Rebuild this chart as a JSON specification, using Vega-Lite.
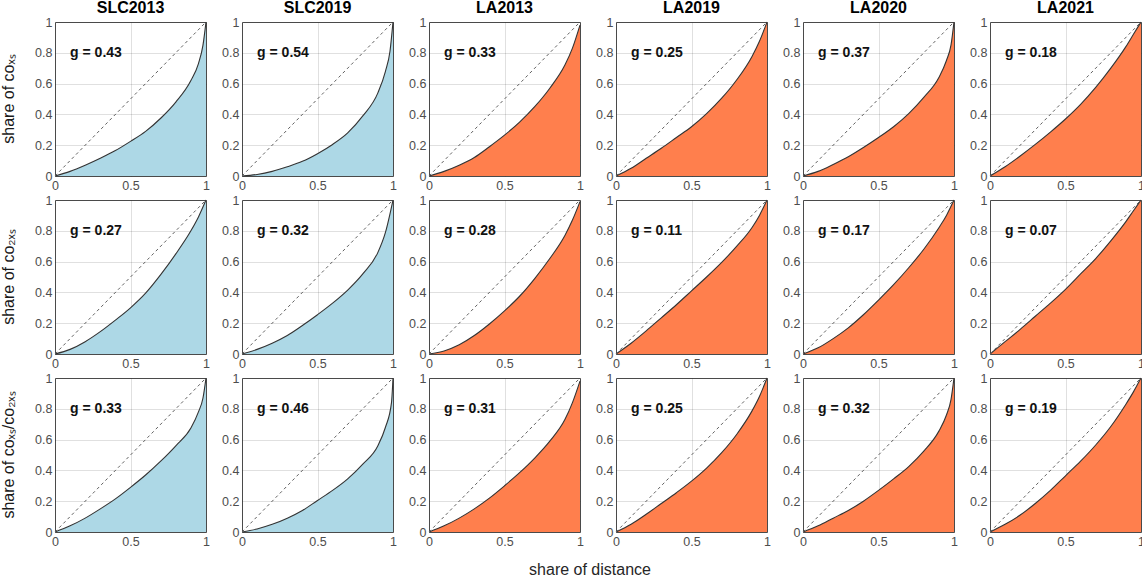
{
  "$schema": "https://vega.github.io/schema/vega-lite/v6.json",
  "background": "white",
  "padding": {"left": 0, "top": 0, "right": 0, "bottom": 2},
  "data": {"values": [
    {"r":1,"p":"SLC2013","x":0,"y":0,"g":"g = 0.43"},{"r":1,"p":"SLC2013","x":0.1,"y":0.03},{"r":1,"p":"SLC2013","x":0.2,"y":0.07},{"r":1,"p":"SLC2013","x":0.3,"y":0.115},{"r":1,"p":"SLC2013","x":0.4,"y":0.165},{"r":1,"p":"SLC2013","x":0.5,"y":0.225},{"r":1,"p":"SLC2013","x":0.6,"y":0.29},{"r":1,"p":"SLC2013","x":0.7,"y":0.375},{"r":1,"p":"SLC2013","x":0.8,"y":0.48},{"r":1,"p":"SLC2013","x":0.9,"y":0.62},{"r":1,"p":"SLC2013","x":0.95,"y":0.73},{"r":1,"p":"SLC2013","x":0.98,"y":0.85},{"r":1,"p":"SLC2013","x":1,"y":1},
    {"r":1,"p":"SLC2019","x":0,"y":0,"g":"g = 0.54"},{"r":1,"p":"SLC2019","x":0.1,"y":0.01},{"r":1,"p":"SLC2019","x":0.2,"y":0.03},{"r":1,"p":"SLC2019","x":0.3,"y":0.06},{"r":1,"p":"SLC2019","x":0.4,"y":0.095},{"r":1,"p":"SLC2019","x":0.5,"y":0.145},{"r":1,"p":"SLC2019","x":0.6,"y":0.205},{"r":1,"p":"SLC2019","x":0.7,"y":0.28},{"r":1,"p":"SLC2019","x":0.8,"y":0.39},{"r":1,"p":"SLC2019","x":0.9,"y":0.54},{"r":1,"p":"SLC2019","x":0.95,"y":0.68},{"r":1,"p":"SLC2019","x":0.98,"y":0.81},{"r":1,"p":"SLC2019","x":1,"y":1},
    {"r":1,"p":"LA2013","x":0,"y":0,"g":"g = 0.33"},{"r":1,"p":"LA2013","x":0.1,"y":0.03},{"r":1,"p":"LA2013","x":0.2,"y":0.07},{"r":1,"p":"LA2013","x":0.3,"y":0.12},{"r":1,"p":"LA2013","x":0.4,"y":0.19},{"r":1,"p":"LA2013","x":0.5,"y":0.265},{"r":1,"p":"LA2013","x":0.6,"y":0.35},{"r":1,"p":"LA2013","x":0.7,"y":0.45},{"r":1,"p":"LA2013","x":0.8,"y":0.57},{"r":1,"p":"LA2013","x":0.9,"y":0.72},{"r":1,"p":"LA2013","x":0.95,"y":0.83},{"r":1,"p":"LA2013","x":1,"y":0.98},
    {"r":1,"p":"LA2019","x":0,"y":0,"g":"g = 0.25"},{"r":1,"p":"LA2019","x":0.1,"y":0.05},{"r":1,"p":"LA2019","x":0.2,"y":0.115},{"r":1,"p":"LA2019","x":0.3,"y":0.18},{"r":1,"p":"LA2019","x":0.4,"y":0.25},{"r":1,"p":"LA2019","x":0.5,"y":0.32},{"r":1,"p":"LA2019","x":0.6,"y":0.405},{"r":1,"p":"LA2019","x":0.7,"y":0.505},{"r":1,"p":"LA2019","x":0.8,"y":0.625},{"r":1,"p":"LA2019","x":0.9,"y":0.775},{"r":1,"p":"LA2019","x":0.95,"y":0.875},{"r":1,"p":"LA2019","x":1,"y":1},
    {"r":1,"p":"LA2020","x":0,"y":0,"g":"g = 0.37"},{"r":1,"p":"LA2020","x":0.1,"y":0.03},{"r":1,"p":"LA2020","x":0.2,"y":0.075},{"r":1,"p":"LA2020","x":0.3,"y":0.125},{"r":1,"p":"LA2020","x":0.4,"y":0.185},{"r":1,"p":"LA2020","x":0.5,"y":0.25},{"r":1,"p":"LA2020","x":0.6,"y":0.32},{"r":1,"p":"LA2020","x":0.7,"y":0.405},{"r":1,"p":"LA2020","x":0.8,"y":0.51},{"r":1,"p":"LA2020","x":0.9,"y":0.64},{"r":1,"p":"LA2020","x":0.95,"y":0.75},{"r":1,"p":"LA2020","x":0.98,"y":0.85},{"r":1,"p":"LA2020","x":1,"y":1},
    {"r":1,"p":"LA2021","x":0,"y":0,"g":"g = 0.18"},{"r":1,"p":"LA2021","x":0.1,"y":0.06},{"r":1,"p":"LA2021","x":0.2,"y":0.13},{"r":1,"p":"LA2021","x":0.3,"y":0.205},{"r":1,"p":"LA2021","x":0.4,"y":0.285},{"r":1,"p":"LA2021","x":0.5,"y":0.37},{"r":1,"p":"LA2021","x":0.6,"y":0.465},{"r":1,"p":"LA2021","x":0.7,"y":0.575},{"r":1,"p":"LA2021","x":0.8,"y":0.7},{"r":1,"p":"LA2021","x":0.9,"y":0.84},{"r":1,"p":"LA2021","x":0.95,"y":0.92},{"r":1,"p":"LA2021","x":1,"y":1},

    {"r":2,"p":"SLC2013","x":0,"y":0,"g":"g = 0.27"},{"r":2,"p":"SLC2013","x":0.1,"y":0.03},{"r":2,"p":"SLC2013","x":0.2,"y":0.08},{"r":2,"p":"SLC2013","x":0.3,"y":0.145},{"r":2,"p":"SLC2013","x":0.4,"y":0.22},{"r":2,"p":"SLC2013","x":0.5,"y":0.3},{"r":2,"p":"SLC2013","x":0.6,"y":0.395},{"r":2,"p":"SLC2013","x":0.7,"y":0.515},{"r":2,"p":"SLC2013","x":0.8,"y":0.65},{"r":2,"p":"SLC2013","x":0.9,"y":0.8},{"r":2,"p":"SLC2013","x":0.95,"y":0.89},{"r":2,"p":"SLC2013","x":1,"y":1},
    {"r":2,"p":"SLC2019","x":0,"y":0,"g":"g = 0.32"},{"r":2,"p":"SLC2019","x":0.1,"y":0.03},{"r":2,"p":"SLC2019","x":0.2,"y":0.07},{"r":2,"p":"SLC2019","x":0.3,"y":0.12},{"r":2,"p":"SLC2019","x":0.4,"y":0.185},{"r":2,"p":"SLC2019","x":0.5,"y":0.255},{"r":2,"p":"SLC2019","x":0.6,"y":0.33},{"r":2,"p":"SLC2019","x":0.7,"y":0.415},{"r":2,"p":"SLC2019","x":0.8,"y":0.52},{"r":2,"p":"SLC2019","x":0.9,"y":0.66},{"r":2,"p":"SLC2019","x":0.95,"y":0.79},{"r":2,"p":"SLC2019","x":1,"y":1},
    {"r":2,"p":"LA2013","x":0,"y":0,"g":"g = 0.28"},{"r":2,"p":"LA2013","x":0.1,"y":0.02},{"r":2,"p":"LA2013","x":0.2,"y":0.06},{"r":2,"p":"LA2013","x":0.3,"y":0.12},{"r":2,"p":"LA2013","x":0.4,"y":0.195},{"r":2,"p":"LA2013","x":0.5,"y":0.28},{"r":2,"p":"LA2013","x":0.6,"y":0.375},{"r":2,"p":"LA2013","x":0.7,"y":0.49},{"r":2,"p":"LA2013","x":0.8,"y":0.62},{"r":2,"p":"LA2013","x":0.9,"y":0.77},{"r":2,"p":"LA2013","x":0.95,"y":0.87},{"r":2,"p":"LA2013","x":1,"y":0.99},
    {"r":2,"p":"LA2019","x":0,"y":0,"g":"g = 0.11"},{"r":2,"p":"LA2019","x":0.1,"y":0.07},{"r":2,"p":"LA2019","x":0.2,"y":0.15},{"r":2,"p":"LA2019","x":0.3,"y":0.235},{"r":2,"p":"LA2019","x":0.4,"y":0.32},{"r":2,"p":"LA2019","x":0.5,"y":0.41},{"r":2,"p":"LA2019","x":0.6,"y":0.5},{"r":2,"p":"LA2019","x":0.7,"y":0.595},{"r":2,"p":"LA2019","x":0.8,"y":0.7},{"r":2,"p":"LA2019","x":0.9,"y":0.82},{"r":2,"p":"LA2019","x":0.95,"y":0.9},{"r":2,"p":"LA2019","x":1,"y":1},
    {"r":2,"p":"LA2020","x":0,"y":0,"g":"g = 0.17"},{"r":2,"p":"LA2020","x":0.1,"y":0.04},{"r":2,"p":"LA2020","x":0.2,"y":0.1},{"r":2,"p":"LA2020","x":0.3,"y":0.17},{"r":2,"p":"LA2020","x":0.4,"y":0.255},{"r":2,"p":"LA2020","x":0.5,"y":0.35},{"r":2,"p":"LA2020","x":0.6,"y":0.45},{"r":2,"p":"LA2020","x":0.7,"y":0.56},{"r":2,"p":"LA2020","x":0.8,"y":0.68},{"r":2,"p":"LA2020","x":0.9,"y":0.82},{"r":2,"p":"LA2020","x":0.95,"y":0.9},{"r":2,"p":"LA2020","x":1,"y":1},
    {"r":2,"p":"LA2021","x":0,"y":0,"g":"g = 0.07"},{"r":2,"p":"LA2021","x":0.1,"y":0.08},{"r":2,"p":"LA2021","x":0.2,"y":0.16},{"r":2,"p":"LA2021","x":0.3,"y":0.245},{"r":2,"p":"LA2021","x":0.4,"y":0.33},{"r":2,"p":"LA2021","x":0.5,"y":0.42},{"r":2,"p":"LA2021","x":0.6,"y":0.52},{"r":2,"p":"LA2021","x":0.7,"y":0.62},{"r":2,"p":"LA2021","x":0.8,"y":0.735},{"r":2,"p":"LA2021","x":0.9,"y":0.86},{"r":2,"p":"LA2021","x":0.95,"y":0.93},{"r":2,"p":"LA2021","x":1,"y":1},

    {"r":3,"p":"SLC2013","x":0,"y":0,"g":"g = 0.33"},{"r":3,"p":"SLC2013","x":0.1,"y":0.04},{"r":3,"p":"SLC2013","x":0.2,"y":0.09},{"r":3,"p":"SLC2013","x":0.3,"y":0.15},{"r":3,"p":"SLC2013","x":0.4,"y":0.215},{"r":3,"p":"SLC2013","x":0.5,"y":0.29},{"r":3,"p":"SLC2013","x":0.6,"y":0.37},{"r":3,"p":"SLC2013","x":0.7,"y":0.46},{"r":3,"p":"SLC2013","x":0.8,"y":0.56},{"r":3,"p":"SLC2013","x":0.9,"y":0.675},{"r":3,"p":"SLC2013","x":0.95,"y":0.78},{"r":3,"p":"SLC2013","x":0.98,"y":0.87},{"r":3,"p":"SLC2013","x":1,"y":1},
    {"r":3,"p":"SLC2019","x":0,"y":0,"g":"g = 0.46"},{"r":3,"p":"SLC2019","x":0.1,"y":0.02},{"r":3,"p":"SLC2019","x":0.2,"y":0.05},{"r":3,"p":"SLC2019","x":0.3,"y":0.09},{"r":3,"p":"SLC2019","x":0.4,"y":0.14},{"r":3,"p":"SLC2019","x":0.5,"y":0.205},{"r":3,"p":"SLC2019","x":0.6,"y":0.27},{"r":3,"p":"SLC2019","x":0.7,"y":0.345},{"r":3,"p":"SLC2019","x":0.8,"y":0.44},{"r":3,"p":"SLC2019","x":0.9,"y":0.56},{"r":3,"p":"SLC2019","x":0.95,"y":0.68},{"r":3,"p":"SLC2019","x":0.99,"y":0.84},{"r":3,"p":"SLC2019","x":1,"y":1},
    {"r":3,"p":"LA2013","x":0,"y":0,"g":"g = 0.31"},{"r":3,"p":"LA2013","x":0.1,"y":0.04},{"r":3,"p":"LA2013","x":0.2,"y":0.09},{"r":3,"p":"LA2013","x":0.3,"y":0.15},{"r":3,"p":"LA2013","x":0.4,"y":0.22},{"r":3,"p":"LA2013","x":0.5,"y":0.3},{"r":3,"p":"LA2013","x":0.6,"y":0.385},{"r":3,"p":"LA2013","x":0.7,"y":0.48},{"r":3,"p":"LA2013","x":0.8,"y":0.59},{"r":3,"p":"LA2013","x":0.9,"y":0.73},{"r":3,"p":"LA2013","x":0.95,"y":0.84},{"r":3,"p":"LA2013","x":1,"y":0.98},
    {"r":3,"p":"LA2019","x":0,"y":0,"g":"g = 0.25"},{"r":3,"p":"LA2019","x":0.1,"y":0.05},{"r":3,"p":"LA2019","x":0.2,"y":0.115},{"r":3,"p":"LA2019","x":0.3,"y":0.185},{"r":3,"p":"LA2019","x":0.4,"y":0.255},{"r":3,"p":"LA2019","x":0.5,"y":0.33},{"r":3,"p":"LA2019","x":0.6,"y":0.415},{"r":3,"p":"LA2019","x":0.7,"y":0.515},{"r":3,"p":"LA2019","x":0.8,"y":0.635},{"r":3,"p":"LA2019","x":0.9,"y":0.785},{"r":3,"p":"LA2019","x":0.95,"y":0.88},{"r":3,"p":"LA2019","x":1,"y":1},
    {"r":3,"p":"LA2020","x":0,"y":0,"g":"g = 0.32"},{"r":3,"p":"LA2020","x":0.1,"y":0.04},{"r":3,"p":"LA2020","x":0.2,"y":0.09},{"r":3,"p":"LA2020","x":0.3,"y":0.14},{"r":3,"p":"LA2020","x":0.4,"y":0.2},{"r":3,"p":"LA2020","x":0.5,"y":0.27},{"r":3,"p":"LA2020","x":0.6,"y":0.345},{"r":3,"p":"LA2020","x":0.7,"y":0.425},{"r":3,"p":"LA2020","x":0.8,"y":0.525},{"r":3,"p":"LA2020","x":0.9,"y":0.655},{"r":3,"p":"LA2020","x":0.95,"y":0.76},{"r":3,"p":"LA2020","x":0.98,"y":0.86},{"r":3,"p":"LA2020","x":1,"y":1},
    {"r":3,"p":"LA2021","x":0,"y":0,"g":"g = 0.19"},{"r":3,"p":"LA2021","x":0.1,"y":0.05},{"r":3,"p":"LA2021","x":0.2,"y":0.11},{"r":3,"p":"LA2021","x":0.3,"y":0.185},{"r":3,"p":"LA2021","x":0.4,"y":0.27},{"r":3,"p":"LA2021","x":0.5,"y":0.365},{"r":3,"p":"LA2021","x":0.6,"y":0.46},{"r":3,"p":"LA2021","x":0.7,"y":0.565},{"r":3,"p":"LA2021","x":0.8,"y":0.685},{"r":3,"p":"LA2021","x":0.9,"y":0.83},{"r":3,"p":"LA2021","x":0.95,"y":0.91},{"r":3,"p":"LA2021","x":1,"y":1}
  ]},
  "facet": {
    "row": {"field": "r", "type": "ordinal", "title": null,
      "header": {"labelExpr": "datum.value == 1 ? 'share of coₓₛ' : datum.value == 2 ? 'share of co₂ₓₛ' : 'share of coₓₛ/co₂ₓₛ'",
        "labelAngle": -90, "labelOrient": "left", "labelAlign": "center", "labelBaseline": "bottom",
        "labelFontSize": 16, "labelFont": "Liberation Sans", "labelColor": "#1a1a1a", "labelPadding": 1}},
    "column": {"field": "p", "type": "nominal", "sort": ["SLC2013","SLC2019","LA2013","LA2019","LA2020","LA2021"],
      "title": "share of distance",
      "header": {"labelOrient": "top", "titleOrient": "bottom", "labelFontSize": 16, "labelFontWeight": "bold",
        "labelFont": "Liberation Sans", "labelColor": "#000", "labelPadding": -1,
        "titleFontSize": 16, "titleFontWeight": "normal", "titleFont": "Liberation Sans", "titleColor": "#262626", "titlePadding": 4}}
  },
  "spacing": {"row": 1, "column": 11},
  "resolve": {"axis": {"x": "independent", "y": "independent"}},
  "spec": {
    "width": 151,
    "height": 154,
    "layer": [
      {
        "mark": {"type": "area", "opacity": 1, "interpolate": "monotone"},
        "encoding": {
          "x": {"field": "x", "type": "quantitative", "scale": {"domain": [0, 1], "nice": false, "zero": false},
            "axis": {"values": [0, 0.5, 1], "tickCount": 10, "format": "~g", "title": null, "labelOverlap": false}},
          "y": {"field": "y", "type": "quantitative", "scale": {"domain": [0, 1], "nice": false},
            "axis": {"values": [0, 0.2, 0.4, 0.6, 0.8, 1], "tickCount": 10, "format": "~g", "title": null, "labelOverlap": false}},
          "color": {"field": "p", "type": "nominal",
            "scale": {"domain": ["SLC2013","SLC2019","LA2013","LA2019","LA2020","LA2021"],
              "range": ["#ADD8E6","#ADD8E6","#FF7F4D","#FF7F4D","#FF7F4D","#FF7F4D"]},
            "legend": null}
        }
      },
      {
        "mark": {"type": "line", "color": "#333333", "strokeWidth": 1.1, "interpolate": "monotone"},
        "encoding": {
          "x": {"field": "x", "type": "quantitative"},
          "y": {"field": "y", "type": "quantitative"}
        }
      },
      {
        "transform": [{"filter": "datum.g"}],
        "mark": {"type": "rule", "color": "#606060", "strokeDash": [3, 3], "strokeWidth": 1},
        "encoding": {"x": {"datum": 0}, "y": {"datum": 0}, "x2": {"datum": 1}, "y2": {"datum": 1}}
      },
      {
        "transform": [{"filter": "datum.g"}],
        "mark": {"type": "text", "align": "left", "baseline": "middle", "fontWeight": "bold", "fontSize": 14, "font": "Liberation Sans", "color": "#111"},
        "encoding": {"x": {"datum": 0.1}, "y": {"datum": 0.8}, "text": {"field": "g"}}
      }
    ]
  },
  "config": {
    "view": {"stroke": "#555555", "strokeWidth": 1, "fill": "white"},
    "axis": {"grid": true, "gridColor": "#000000", "gridOpacity": 0.12, "domain": false, "ticks": false,
      "labelFont": "Liberation Sans", "labelFontSize": 12.5, "labelColor": "#4d4d4d", "labelPadding": 3,
      "labelFlush": false, "labelOverlap": false, "labelBound": false, "zindex": 1}
  }
}
